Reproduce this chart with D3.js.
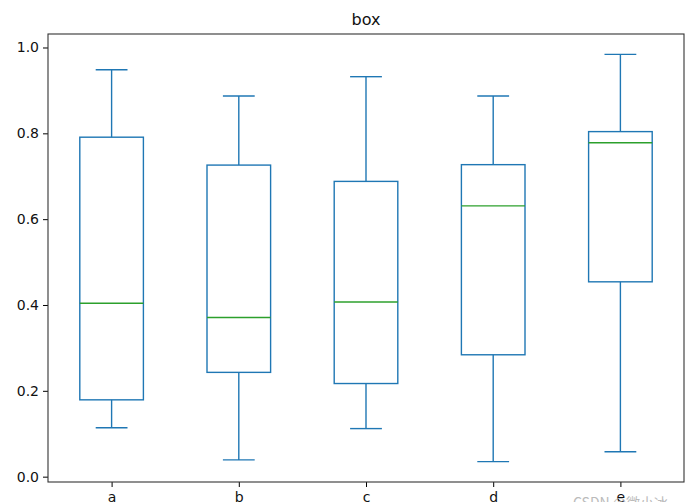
<!DOCTYPE html>
<html><head><meta charset="utf-8">
<script src="https://cdn.jsdelivr.net/npm/d3@7"></script>
<style>body{margin:0;background:#fff;} svg{display:block;}</style>
</head><body>
<svg id="c" width="691" height="502"></svg>
<script>
const categories = ["a","b","c","d","e"];
const whiskerLow  = [0.114, 0.039, 0.112, 0.035, 0.058];
const q1          = [0.179, 0.243, 0.217, 0.284, 0.454];
const median      = [0.404, 0.371, 0.407, 0.631, 0.778];
const q3          = [0.791, 0.726, 0.688, 0.727, 0.804];
const whiskerHigh = [0.948, 0.887, 0.932, 0.887, 0.984];
const yTicks = [0.0, 0.2, 0.4, 0.6, 0.8, 1.0];

const W = 691, H = 502;
const m = {left: 48, right: 7, top: 34, bottom: 20};
const svg = d3.select("#c");
const fontFam = "DejaVu Sans, sans-serif";

const lo = d3.min(whiskerLow), hi = d3.max(whiskerHigh);
const pad = (hi - lo) * 0.05;
const y = d3.scaleLinear().domain([lo - pad, hi + pad]).range([H - m.bottom, m.top]);
const x = d3.scaleLinear().domain([0.5, categories.length + 0.5]).range([m.left, W - m.right]);
const unit = x(2) - x(1);

const blue = "#1f77b4", green = "#2ca02c";
const lw = 1.4;

const g = svg.append("g");
categories.forEach((c, i) => {
  const cx = x(i + 1);
  const bw = unit * 0.5, cw = unit * 0.25;
  g.append("line").attr("x1", cx).attr("x2", cx).attr("y1", y(q1[i])).attr("y2", y(whiskerLow[i]))
    .attr("stroke", blue).attr("stroke-width", lw);
  g.append("line").attr("x1", cx).attr("x2", cx).attr("y1", y(q3[i])).attr("y2", y(whiskerHigh[i]))
    .attr("stroke", blue).attr("stroke-width", lw);
  [whiskerLow[i], whiskerHigh[i]].forEach(v => {
    g.append("line").attr("x1", cx - cw/2).attr("x2", cx + cw/2).attr("y1", y(v)).attr("y2", y(v))
      .attr("stroke", blue).attr("stroke-width", lw);
  });
  g.append("rect").attr("x", cx - bw/2).attr("width", bw)
    .attr("y", y(q3[i])).attr("height", y(q1[i]) - y(q3[i]))
    .attr("fill", "none").attr("stroke", blue).attr("stroke-width", lw);
  g.append("line").attr("x1", cx - bw/2).attr("x2", cx + bw/2).attr("y1", y(median[i])).attr("y2", y(median[i]))
    .attr("stroke", green).attr("stroke-width", lw);
});

const yAxis = d3.axisLeft(y).tickValues(yTicks).tickFormat(d3.format(".1f")).tickSize(5).tickPadding(4);
const ya = svg.append("g").attr("transform", `translate(${m.left},0)`).call(yAxis);
const xAxis = d3.axisBottom(x).tickValues(categories.map((d, i) => i + 1)).tickFormat((d) => categories[d - 1]).tickSize(5).tickPadding(5);
const xa = svg.append("g").attr("transform", `translate(0,${H - m.bottom})`).call(xAxis);
[ya, xa].forEach(a => {
  a.select(".domain").remove();
  a.selectAll(".tick line").attr("stroke", "#000").attr("stroke-width", 1);
  a.selectAll(".tick text").attr("fill", "#111").style("font-family", fontFam).style("font-size", "14px");
});

svg.append("rect").attr("x", m.left).attr("y", m.top)
  .attr("width", W - m.left - m.right).attr("height", H - m.top - m.bottom)
  .attr("fill", "none").attr("stroke", "#333").attr("stroke-width", 1.1);

svg.append("text").attr("x", (m.left + W - m.right) / 2).attr("y", 25)
  .attr("text-anchor", "middle").style("font-family", fontFam).style("font-size", "16px")
  .attr("fill", "#111").text("box");

svg.append("text").attr("x", 573).attr("y", 508)
  .style("font-family", "Noto Sans CJK SC, sans-serif").style("font-size", "14px")
  .attr("fill", "#bbb").text("CSDN @微小冰");
</script>
</body></html>
